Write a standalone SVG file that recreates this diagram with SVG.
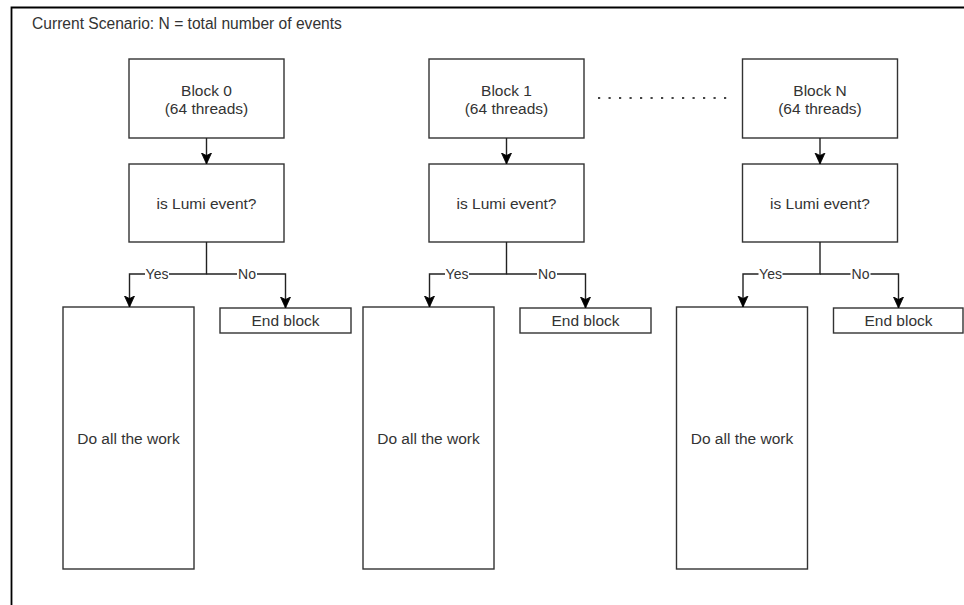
<svg xmlns="http://www.w3.org/2000/svg" width="964" height="605" viewBox="0 0 964 605">
<style>
.box{fill:#fff;stroke:#333;stroke-width:1.4}
.t{font-family:"Liberation Sans",Arial,sans-serif;font-size:15.5px;fill:#333;text-anchor:middle}
.lbl{font-family:"Liberation Sans",Arial,sans-serif;font-size:14px;fill:#333;text-anchor:middle}
.edge{fill:none;stroke:#222;stroke-width:1.4}
.arr{marker-end:url(#ah)}
.lb{fill:#fff}
</style>
<defs>
<marker id="ah" markerUnits="userSpaceOnUse" markerWidth="12" markerHeight="12" refX="11" refY="6" orient="auto" viewBox="0 0 12 12">
<path d="M0,1 L11,6 L0,11 L2.5,6 Z" fill="#000" stroke="#000" stroke-width="0.8"/>
</marker>
</defs>
<rect width="964" height="605" fill="#fff"/>
<path d="M11.5,612 V7.5 H970" fill="none" stroke="#000" stroke-width="1.8"/>
<g id="title"><text x="32" y="28.5" font-family="Liberation Sans, Arial, sans-serif" font-size="15.6" fill="#333">Current Scenario: N = total number of events</text></g>

<g id="block0"><rect class="box" x="129" y="59" width="155" height="79"/><text class="t" x="206.5" y="95.5">Block 0</text><text class="t" x="206.5" y="113.5">(64 threads)</text></g>
<g id="lumi0"><rect class="box" x="129" y="164" width="155" height="78"/><text class="t" x="206.5" y="208.5">is Lumi event?</text></g>
<g id="work0"><rect class="box" x="63" y="307" width="131" height="262"/><text class="t" x="128.5" y="443.5">Do all the work</text></g>
<g id="end0"><rect class="box" x="220" y="308" width="131" height="25"/><text class="t" x="285.5" y="326">End block</text></g>

<g id="block1"><rect class="box" x="429" y="59" width="155" height="79"/><text class="t" x="506.5" y="95.5">Block 1</text><text class="t" x="506.5" y="113.5">(64 threads)</text></g>
<g id="lumi1"><rect class="box" x="429" y="164" width="155" height="78"/><text class="t" x="506.5" y="208.5">is Lumi event?</text></g>
<g id="work1"><rect class="box" x="363" y="307" width="131" height="262"/><text class="t" x="428.5" y="443.5">Do all the work</text></g>
<g id="end1"><rect class="box" x="520" y="308" width="131" height="25"/><text class="t" x="585.5" y="326">End block</text></g>

<g id="blockN"><rect class="box" x="742.5" y="59" width="155" height="79"/><text class="t" x="820" y="95.5">Block N</text><text class="t" x="820" y="113.5">(64 threads)</text></g>
<g id="lumiN"><rect class="box" x="742.5" y="164" width="155" height="78"/><text class="t" x="820" y="208.5">is Lumi event?</text></g>
<g id="workN"><rect class="box" x="676.5" y="307" width="131" height="262"/><text class="t" x="742" y="443.5">Do all the work</text></g>
<g id="endN"><rect class="box" x="833.5" y="308" width="129.5" height="25"/><text class="t" x="898.5" y="326">End block</text></g>

<g id="connectors">
<line x1="598" y1="98" x2="728" y2="98" stroke="#444" stroke-width="2.2" stroke-dasharray="2.2 8.3"/>
<path class="edge arr" d="M206.5,138 V164"/>
<path class="edge arr" d="M206.5,242 V274 H129.5 V307"/>
<path class="edge arr" d="M206.5,274 H285.5 V308"/>
<rect class="lb" x="145" y="266" width="24" height="15"/><text class="lbl" x="157" y="278.5">Yes</text>
<rect class="lb" x="237" y="266" width="20" height="15"/><text class="lbl" x="247" y="278.5">No</text>

<path class="edge arr" d="M506.5,138 V164"/>
<path class="edge arr" d="M506.5,242 V274 H429.5 V307"/>
<path class="edge arr" d="M506.5,274 H585.5 V308"/>
<rect class="lb" x="445" y="266" width="24" height="15"/><text class="lbl" x="457" y="278.5">Yes</text>
<rect class="lb" x="537" y="266" width="20" height="15"/><text class="lbl" x="547" y="278.5">No</text>

<path class="edge arr" d="M820,138 V164"/>
<path class="edge arr" d="M820,242 V274 H743 V307"/>
<path class="edge arr" d="M820,274 H898.5 V308"/>
<rect class="lb" x="758.5" y="266" width="24" height="15"/><text class="lbl" x="770.5" y="278.5">Yes</text>
<rect class="lb" x="850.5" y="266" width="20" height="15"/><text class="lbl" x="860.5" y="278.5">No</text>
</g>
</svg>
